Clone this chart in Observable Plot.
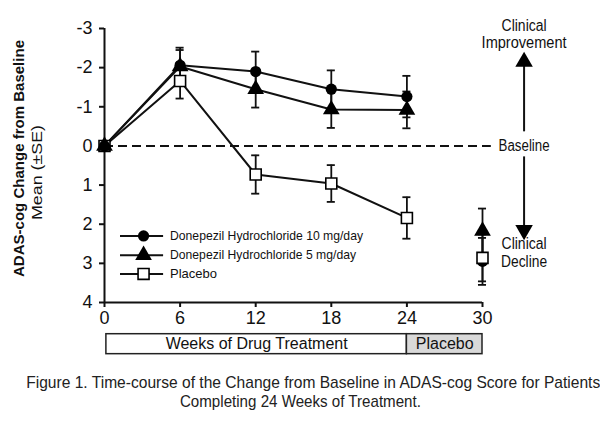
<!DOCTYPE html>
<html>
<head>
<meta charset="utf-8">
<script src="https://cdn.jsdelivr.net/npm/d3@7"></script>
<script src="https://cdn.jsdelivr.net/npm/@observablehq/plot@0.6"></script>
<style>
  body { margin: 0; background: #fff; width: 600px; height: 432px; overflow: hidden; font-family: "Liberation Sans", Arial, sans-serif; }
  #chart svg { display: block; }
  #caption {
    font-family: "Liberation Sans", Arial, sans-serif;
    font-size: 17px; line-height: 19px; text-align: center; color: #222;
    padding-top: 8px; margin: 0; white-space: nowrap;
  }
  #caption span { display: inline-block; transform-origin: center; }
</style>
</head>
<body>
<div id="chart"></div>
<div id="caption"><span data-w="574">Figure 1. Time-course of the Change from Baseline in ADAS-cog Score for Patients</span><br><span data-w="241">Completing 24 Weeks of Treatment.</span></div>
<script>
// ---- data ----
const weeks = [0, 6, 12, 18, 24];
const mean10 = [0, -2.06, -1.90, -1.45, -1.26];
const se10   = [0, 0.45, 0.51, 0.48, 0.53];
const mean5  = [0, -2.03, -1.45, -0.93, -0.92];
const se5    = [0, 0.42, 0.47, 0.47, 0.47];
const meanPbo = [0, -1.66, 0.73, 0.96, 1.84];
const sePbo   = [0, 0.45, 0.49, 0.47, 0.53];
// week 30 (after 6 weeks of placebo washout)
const week30 = 30;
const mean30 = [2.95, 2.17, 2.86];   // 10 mg, 5 mg, placebo
const se30   = [0.60, 0.57, 0.60];
const seriesNames = ["Donepezil Hydrochloride 10 mg/day", "Donepezil Hydrochloride 5 mg/day", "Placebo"];
const xTicks = [0, 6, 12, 18, 24, 30];
const yTicks = [-3, -2, -1, 0, 1, 2, 3, 4];
const phaseLabels = ["Weeks of Drug Treatment", "Placebo"];
const phaseBounds = [[0.15, 24], [24, 30]];

// ---- build tables ----
const phases = phaseLabels.map((label, i) => ({label, start: phaseBounds[i][0], end: phaseBounds[i][1], fill: i ? "#d9d9d9" : "white"}));
const series = [
  {name: seriesNames[0], mean: mean10, se: se10, symbol: "circle"},
  {name: seriesNames[1], mean: mean5, se: se5, symbol: "triangle"},
  {name: seriesNames[2], mean: meanPbo, se: sePbo, symbol: "square"}
];
const rows = series.flatMap((s, i) => weeks.map((w, j) => ({series: s.name, idx: i, week: w, mean: s.mean[j], se: s.se[j]})));
const rows30 = series.map((s, i) => ({series: s.name, idx: i, week: week30, mean: mean30[i], se: se30[i]}));
const allPts = rows.concat(rows30).filter(d => d.se > 0);
const byIdx = i => rows.filter(d => d.idx === i);
const at30 = i => rows30.filter(d => d.idx === i);

// legend layout (data units)
const legend = seriesNames.map((n, i) => ({name: n, idx: i, y: [2.30, 2.79, 3.27][i]}));
const legendX = {x1: 1.27, x2: 4.69, mark: 3.1, text: 5.2};

// right-hand annotations
const annotX = 33.3;
const annotLines = [
  {text: "Clinical", y: -3.07},
  {text: "Improvement", y: -2.64},
  {text: "Baseline", y: 0},
  {text: "Clinical", y: 2.51},
  {text: "Decline", y: 2.95}
];

// target text widths (px) measured on the reference
const textWidths = {
  "Clinical": 45, "Improvement": 85, "Baseline": 51, "Decline": 46,
  "ADAS-cog Change from Baseline": 237, "Mean (±SE)": 95,
  "Donepezil Hydrochloride 10 mg/day": 193, "Donepezil Hydrochloride 5 mg/day": 186,
  "Weeks of Drug Treatment": 182
};

const capW = 0.32;
const sym = i => {
  const s = series[i];
  return s.symbol === "square"
    ? {symbol: "square", r: 6.2, fill: "white", stroke: "black", strokeWidth: 1.6}
    : {symbol: s.symbol, r: s.symbol === "triangle" ? 6.2 : 5.6, fill: "black"};
};

const chart = Plot.plot({
  width: 600,
  height: 365,
  marginLeft: 104,
  marginRight: 118,
  marginTop: 28,
  marginBottom: 63,
  style: {fontFamily: "'Liberation Sans', Arial, sans-serif", color: "#111", background: "white"},
  x: {domain: [0, 30], axis: null},
  y: {domain: [-3, 4], reverse: true, axis: null},
  marks: [
    // axes
    Plot.ruleX([0], {y1: yTicks[0], y2: yTicks[yTicks.length - 1], strokeWidth: 2}),
    Plot.ruleY([4], {x1: xTicks[0], x2: xTicks[xTicks.length - 1], strokeWidth: 2}),
    Plot.axisY({ticks: yTicks, tickSize: 5, tickPadding: 7, fontSize: 18, strokeWidth: 2, tickFormat: d => String(d), label: null}),
    Plot.axisX({ticks: xTicks, tickSize: 5, tickPadding: 4, fontSize: 18, strokeWidth: 2, tickFormat: d => String(d), label: null}),
    // baseline
    Plot.ruleY([0], {x1: 0, x2: 30.7, strokeWidth: 2, strokeDasharray: "9,5"}),
    // error bars
    Plot.ruleX(allPts, {x: "week", y1: d => d.mean - d.se, y2: d => d.mean + d.se, strokeWidth: 1.8}),
    Plot.ruleY(allPts, {y: d => d.mean - d.se, x1: d => d.week - capW, x2: d => d.week + capW, strokeWidth: 1.8}),
    Plot.ruleY(allPts, {y: d => d.mean + d.se, x1: d => d.week - capW, x2: d => d.week + capW, strokeWidth: 1.8}),
    // lines
    Plot.line(byIdx(2), {x: "week", y: "mean", strokeWidth: 2}),
    Plot.line(byIdx(1), {x: "week", y: "mean", strokeWidth: 2}),
    Plot.line(byIdx(0), {x: "week", y: "mean", strokeWidth: 2}),
    // markers
    Plot.dot(byIdx(2), {x: "week", y: "mean", ...sym(2)}),
    Plot.dot(byIdx(1), {x: "week", y: "mean", ...sym(1)}),
    Plot.dot(byIdx(0), {x: "week", y: "mean", ...sym(0)}),
    Plot.dot(at30(1), {x: "week", y: "mean", ...sym(1)}),
    Plot.dot(at30(0), {x: "week", y: "mean", ...sym(0)}),
    Plot.dot(at30(2), {x: "week", y: "mean", ...sym(2)}),
    // legend
    Plot.ruleY(legend, {y: "y", x1: legendX.x1, x2: legendX.x2, strokeWidth: 2}),
    Plot.dot(legend.filter(d => d.idx === 0), {x: legendX.mark, y: "y", ...sym(0)}),
    Plot.dot(legend.filter(d => d.idx === 1), {x: legendX.mark, y: "y", ...sym(1)}),
    Plot.dot(legend.filter(d => d.idx === 2), {x: legendX.mark, y: "y", ...sym(2)}),
    Plot.text(legend, {x: legendX.text, y: "y", text: "name", textAnchor: "start", fontSize: 13, fill: "#111"}),
    // y axis titles
    Plot.text(["ADAS-cog Change from Baseline"], {frameAnchor: "left", textAnchor: "middle", rotate: -90, dx: -85, dy: -7, fontSize: 15, fontWeight: "bold", fill: "#111"}),
    Plot.text(["Mean (±SE)"], {frameAnchor: "left", textAnchor: "middle", rotate: -90, dx: -67, dy: 7, fontSize: 15, fill: "#111"}),
    // right annotations
    Plot.text(annotLines, {x: annotX, y: "y", text: "text", fontSize: 16, fill: "#111"}),
    Plot.ruleX([annotX], {y1: -0.36, y2: -2.1, strokeWidth: 2}),
    Plot.ruleX([annotX], {y1: 0.28, y2: 2.1, strokeWidth: 2}),
    Plot.dot([annotX], {x: d => d, y: -2.15, symbol: "triangle", r: 6.5, fill: "black"}),
    Plot.dot([annotX], {x: d => d, y: 2.15, symbol: "triangle", r: 6.5, fill: "black", rotate: 180}),
    // phase bar
    Plot.rect(phases, {x1: "start", x2: "end", y1: 4.81, y2: 5.32, fill: "fill", stroke: "#222", strokeWidth: 1.5}),
    Plot.text(phases, {x: d => (d.start + d.end) / 2, y: 5.065, text: "label", fontSize: 16, fill: "#111"})
  ]
});
document.getElementById("chart").appendChild(chart);

// fit texts to the widths measured on the reference
chart.querySelectorAll("text").forEach(t => {
  const w = textWidths[t.textContent];
  if (w) {
    t.setAttribute("textLength", w);
    t.setAttribute("lengthAdjust", "spacingAndGlyphs");
  }
});
// caption: condense to the reference widths
document.querySelectorAll("#caption span").forEach(sp => {
  const target = +sp.dataset.w;
  const w = sp.getBoundingClientRect().width;
  if (w > 0) sp.style.transform = `scaleX(${target / w})`;
});
</script>
</body>
</html>
